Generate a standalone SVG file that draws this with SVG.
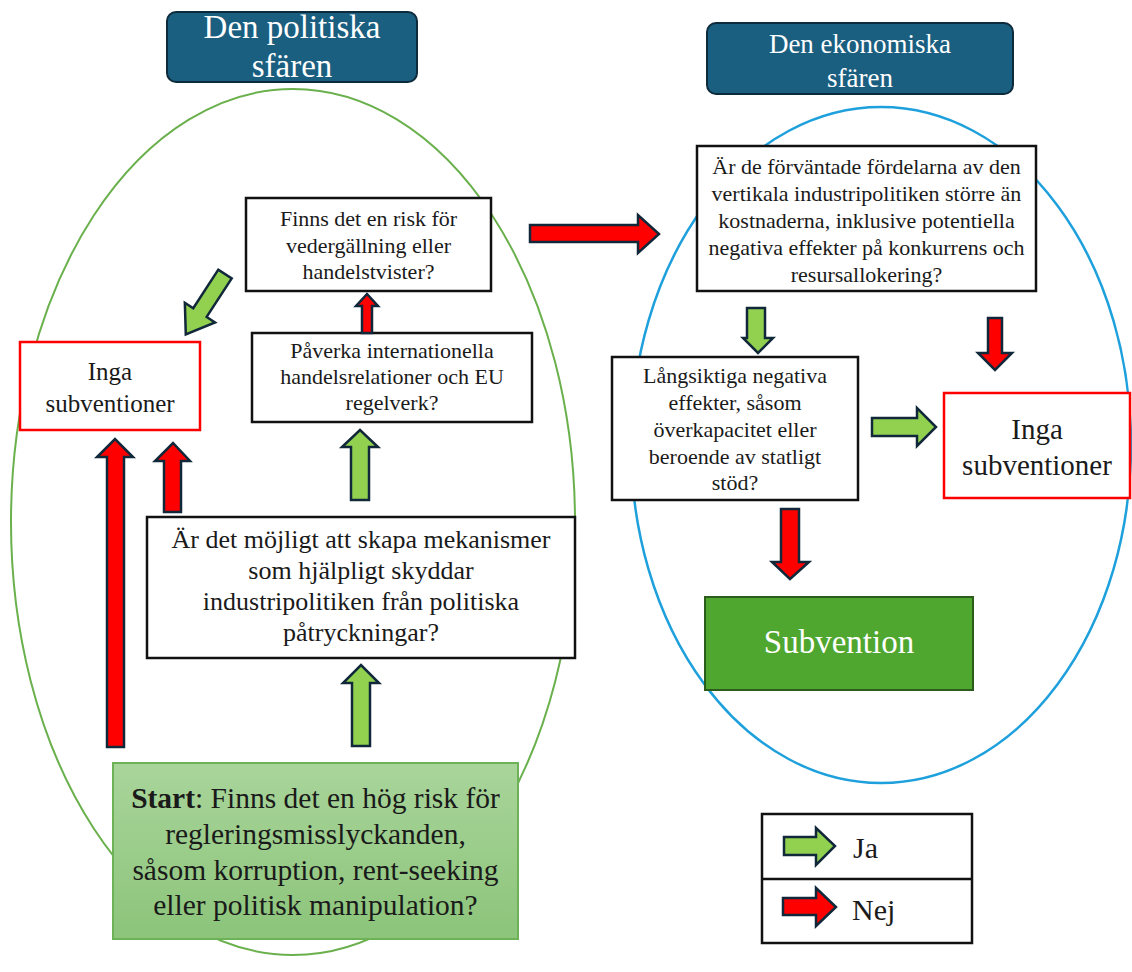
<svg xmlns="http://www.w3.org/2000/svg" width="1132" height="972" viewBox="0 0 1132 972" font-family="'Liberation Serif', 'DejaVu Serif', serif">
  <defs>
    <linearGradient id="startFill" x1="0" y1="0" x2="0" y2="1">
      <stop offset="0" stop-color="#a9d59b"/>
      <stop offset="1" stop-color="#8cc47a"/>
    </linearGradient>
    <style>
      text { font-family: 'Liberation Serif', 'DejaVu Serif', serif; fill: #1a1a1a; text-anchor: middle; }
      .hdr rect { fill: #1a5e80; stroke: #0e2b3b; stroke-width: 2; }
      .hdr text { fill: #ffffff; }
      .q rect { fill: #ffffff; stroke: #111111; stroke-width: 2.5; }
      .no rect { fill: #ffffff; stroke: #ff0000; stroke-width: 2.5; }
      .yes { fill: #92d050; stroke: #10283a; stroke-width: 2.5; stroke-linejoin: miter; }
      .nej { fill: #ff0000; stroke: #10283a; stroke-width: 2.5; stroke-linejoin: miter; }
    </style>
  </defs>

  <rect width="1132" height="972" fill="#ffffff"/>

  <!-- sphere outlines -->
  <g id="spheres" fill="none">
    <ellipse cx="293" cy="522" rx="282" ry="433" stroke="#6ab04c" stroke-width="2"/>
    <ellipse cx="881" cy="445" rx="250" ry="338" stroke="#1ea0dc" stroke-width="2.5"/>
  </g>

  <!-- headers -->
  <g id="hdr-politisk" class="hdr">
    <rect x="167" y="12" width="250" height="70" rx="9"/>
    <text x="292" y="38" font-size="33">Den politiska</text>
    <text x="292" y="77" font-size="33">sfären</text>
  </g>
  <g id="hdr-ekonomisk" class="hdr">
    <rect x="707" y="23" width="306" height="71" rx="9"/>
    <text x="860" y="53" font-size="27">Den ekonomiska</text>
    <text x="860" y="87" font-size="27">sfären</text>
  </g>

  <!-- political sphere nodes -->
  <g id="n-start">
    <rect x="113" y="763" width="405" height="176" fill="url(#startFill)" stroke="#6eb257" stroke-width="2"/>
    <text x="315.5" y="808" font-size="29.5"><tspan font-weight="bold">Start</tspan>: Finns det en hög risk för</text>
    <text x="315.5" y="844" font-size="29.5">regleringsmisslyckanden,</text>
    <text x="315.5" y="879.5" font-size="29.5">såsom korruption, rent-seeking</text>
    <text x="315.5" y="915" font-size="29.5">eller politisk manipulation?</text>
  </g>

  <g id="n-mekanismer" class="q">
    <rect x="147" y="517" width="428" height="141"/>
    <text x="361" y="548" font-size="26">Är det möjligt att skapa mekanismer</text>
    <text x="361" y="579" font-size="26">som hjälpligt skyddar</text>
    <text x="361" y="610" font-size="26">industripolitiken från politiska</text>
    <text x="361" y="641" font-size="26">påtryckningar?</text>
  </g>

  <g id="n-paverka" class="q">
    <rect x="252" y="333" width="280" height="89"/>
    <text x="392" y="358" font-size="22">Påverka internationella</text>
    <text x="392" y="384" font-size="22">handelsrelationer och EU</text>
    <text x="392" y="410" font-size="22">regelverk?</text>
  </g>

  <g id="n-vedergallning" class="q">
    <rect x="246" y="198" width="245" height="93"/>
    <text x="368.5" y="226" font-size="22">Finns det en risk för</text>
    <text x="368.5" y="252.5" font-size="22">vedergällning eller</text>
    <text x="368.5" y="279" font-size="22">handelstvister?</text>
  </g>

  <g id="n-inga-vanster" class="no">
    <rect x="20" y="342" width="180" height="88"/>
    <text x="110" y="380" font-size="25">Inga</text>
    <text x="110" y="412" font-size="25">subventioner</text>
  </g>

  <!-- economic sphere nodes -->
  <g id="n-fordelar" class="q">
    <rect x="697" y="146" width="339" height="145"/>
    <text x="866.5" y="174" font-size="22">Är de förväntade fördelarna av den</text>
    <text x="866.5" y="201" font-size="22">vertikala industripolitiken större än</text>
    <text x="866.5" y="228" font-size="22">kostnaderna, inklusive potentiella</text>
    <text x="866.5" y="255" font-size="22">negativa effekter på konkurrens och</text>
    <text x="866.5" y="282" font-size="22">resursallokering?</text>
  </g>

  <g id="n-langsiktiga" class="q">
    <rect x="612" y="357" width="246" height="143"/>
    <text x="735" y="383" font-size="22">Långsiktiga negativa</text>
    <text x="735" y="410" font-size="22">effekter, såsom</text>
    <text x="735" y="437" font-size="22">överkapacitet eller</text>
    <text x="735" y="463.5" font-size="22">beroende av statligt</text>
    <text x="735" y="490" font-size="22">stöd?</text>
  </g>

  <g id="n-inga-hoger" class="no">
    <rect x="944" y="393" width="186" height="105"/>
    <text x="1037" y="439" font-size="29">Inga</text>
    <text x="1037" y="475" font-size="29">subventioner</text>
  </g>

  <g id="n-subvention">
    <rect x="705" y="597" width="268" height="93" fill="#4fa72f" stroke="#2b5c1b" stroke-width="2"/>
    <text x="839" y="653" font-size="33" style="fill:#ffffff">Subvention</text>
  </g>

  <!-- connectors: block arrows, green = yes, red = no -->
  <g id="connectors">
    <!-- start -> mekanismer (yes) -->
    <polygon class="yes" points="352,746 352,683 343,683 361,665 379,683 370,683 370,746"/>
    <!-- start -> inga (no) -->
    <polygon class="nej" points="107,747 107,457 97,457 115,439 133,457 124,457 124,747"/>
    <!-- mekanismer -> inga (no) -->
    <polygon class="nej" points="164,512 164,461 155,461 173,443 190,461 181,461 181,512"/>
    <!-- mekanismer -> paverka (yes) -->
    <polygon class="yes" points="351,500 351,447 342,447 360,430 378,447 369,447 369,500"/>
    <!-- paverka -> vedergallning (no) -->
    <polygon class="nej" points="362,333 362,306 356,306 367,294 378,306 372,306 372,333"/>
    <!-- vedergallning -> inga (yes) -->
    <polygon class="yes" points="0,-8 46,-8 46,-18 72,0 46,18 46,8 0,8" transform="translate(225 274) rotate(123)"/>
    <!-- vedergallning -> economic sphere (no) -->
    <polygon class="nej" points="530,225 638,225 638,215 659,234 638,253 638,242 530,242"/>
    <!-- fordelar -> langsiktiga (yes) -->
    <polygon class="yes" points="747,308 765,308 765,338 773,338 758,353 743,338 747,338"/>
    <!-- fordelar -> inga (no) -->
    <polygon class="nej" points="988,318 1002,318 1002,353 1012,353 995,370 978,353 988,353"/>
    <!-- langsiktiga -> inga (yes) -->
    <polygon class="yes" points="872,418 917,418 917,408 936,427 917,446 917,436 872,436"/>
    <!-- langsiktiga -> subvention (no) -->
    <polygon class="nej" points="781,509 799,509 799,562 809,562 790,579 772,562 781,562"/>
  </g>

  <!-- legend -->
  <g id="legend">
    <rect x="762" y="814" width="210" height="129" fill="#ffffff" stroke="#111111" stroke-width="2.5"/>
    <line x1="762" y1="879" x2="972" y2="879" stroke="#111111" stroke-width="2.5"/>
    <polygon class="yes" points="784,837 816,837 816,828 835,846 816,865 816,855 784,855"/>
    <text x="853" y="858" font-size="30" style="text-anchor:start">Ja</text>
    <polygon class="nej" points="783,898 816,898 816,888 836,907 816,926 816,915 783,915"/>
    <text x="852" y="920" font-size="30" style="text-anchor:start">Nej</text>
  </g>
</svg>
